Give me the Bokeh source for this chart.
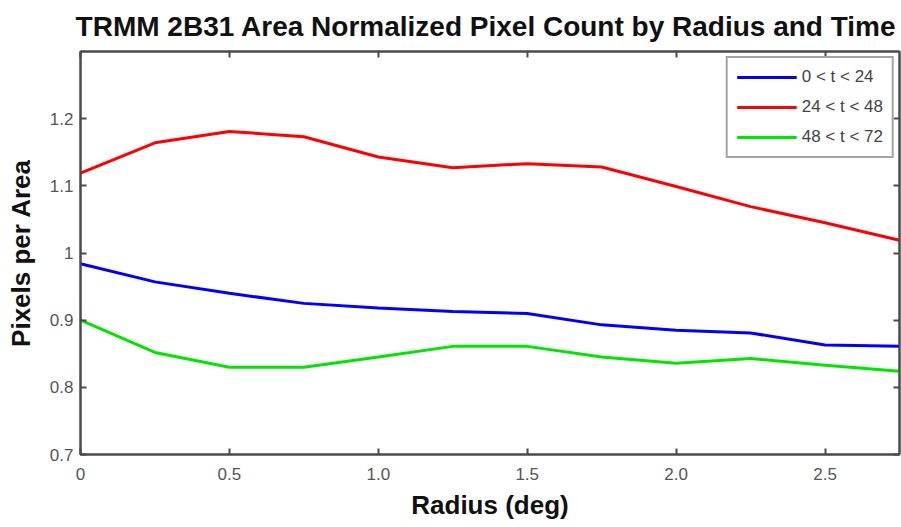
from bokeh.plotting import figure
from bokeh.models import (Range1d, LinearAxis, FixedTicker, Legend, LegendItem,
                          CustomJSTickFormatter)
from bokeh.embed import file_html
from bokeh.resources import INLINE

# ---- data ----
radius = [0, 0.25, 0.5, 0.75, 1.0, 1.25, 1.5, 1.75, 2.0, 2.25, 2.5, 2.75]
series_0_24 = [0.984, 0.957, 0.940, 0.925, 0.918, 0.913, 0.910, 0.893, 0.885, 0.881, 0.863, 0.861]
series_24_48 = [1.119, 1.164, 1.181, 1.173, 1.143, 1.127, 1.133, 1.128, 1.099, 1.069, 1.045, 1.019]
series_48_72 = [0.900, 0.852, 0.830, 0.830, 0.845, 0.861, 0.861, 0.845, 0.836, 0.843, 0.833, 0.824]
series_names = ["0 < t < 24", "24 < t < 48", "48 < t < 72"]
x_ticks = [0, 0.5, 1.0, 1.5, 2.0, 2.5]
x_tick_labels = ["0", "0.5", "1.0", "1.5", "2.0", "2.5"]
y_ticks = [0.7, 0.8, 0.9, 1.0, 1.1, 1.2]
y_tick_labels = ["0.7", "0.8", "0.9", "1", "1.1", "1.2"]

FONT = "Liberation Sans"
AX = "#4a4a4a"

p = figure(width=901, height=527, output_backend="svg", toolbar_location=None,
           x_range=Range1d(0, 2.75), y_range=Range1d(0.7, 1.3),
           min_border_left=80, min_border_top=51, min_border_bottom=73,
           min_border_right=2,
           title="TRMM 2B31  Area Normalized Pixel Count by Radius and Time")
p.title.align = "center"
p.title.vertical_align = "top"
p.title.text_font = FONT
p.title.text_font_size = "28px"
p.title.text_font_style = "bold"
p.title.text_color = "#111111"
p.title.standoff = 15

p.grid.visible = False
p.outline_line_color = AX
p.outline_line_width = 2
p.background_fill_color = "white"
p.border_fill_color = "white"

def style_axis(ax, ticks, labels=None):
    ax.ticker = FixedTicker(ticks=ticks)
    if labels is not None:
        ax.major_label_overrides = {t: l for t, l in zip(ticks, labels)}
    else:
        ax.formatter = CustomJSTickFormatter(code="return ''")
        ax.major_label_standoff = 0
    ax.axis_line_color = AX
    ax.axis_line_width = 2
    ax.major_tick_line_color = AX
    ax.major_tick_line_width = 2
    ax.major_tick_in = 6
    ax.major_tick_out = 0
    ax.minor_tick_line_color = None
    ax.major_label_text_font = FONT
    ax.major_label_text_font_size = "17px"
    ax.major_label_text_color = "#555555"
    ax.axis_label_text_font = FONT
    ax.axis_label_text_font_size = "26px"
    ax.axis_label_text_font_style = "bold"
    ax.axis_label_text_color = "#111111"

xa = p.xaxis[0]
style_axis(xa, x_ticks, x_tick_labels)
xa.axis_label = "Radius (deg)"
xa.major_label_standoff = 13
xa.axis_label_standoff = 7

ya = p.yaxis[0]
style_axis(ya, y_ticks, y_tick_labels)
ya.axis_label = "Pixels per Area"
ya.major_label_standoff = 7
ya.axis_label_standoff = 11

top = LinearAxis()
style_axis(top, x_ticks)
p.add_layout(top, "above")
right = LinearAxis()
style_axis(right, y_ticks)
p.add_layout(right, "right")

colors = ["#0000ff", "#ff0000", "#00e600"]
renderers = []
for ys, c in zip([series_0_24, series_24_48, series_48_72], colors):
    r = p.line(radius, ys, line_color=c, line_width=3)
    renderers.append(r)

legend = Legend(items=[LegendItem(label=n, renderers=[r]) for n, r in zip(series_names, renderers)],
                location="top_right")
legend.margin = 5
legend.padding = 9
legend.spacing = 10
legend.glyph_width = 60
legend.glyph_height = 20
legend.label_height = 20
legend.label_standoff = 5
legend.label_text_font = FONT
legend.label_text_font_size = "17px"
legend.label_text_color = "#444444"
legend.border_line_color = AX
legend.border_line_width = 2
legend.background_fill_color = "white"
legend.background_fill_alpha = 1
p.add_layout(legend)

open("out.html", "w").write(file_html(p, INLINE))
